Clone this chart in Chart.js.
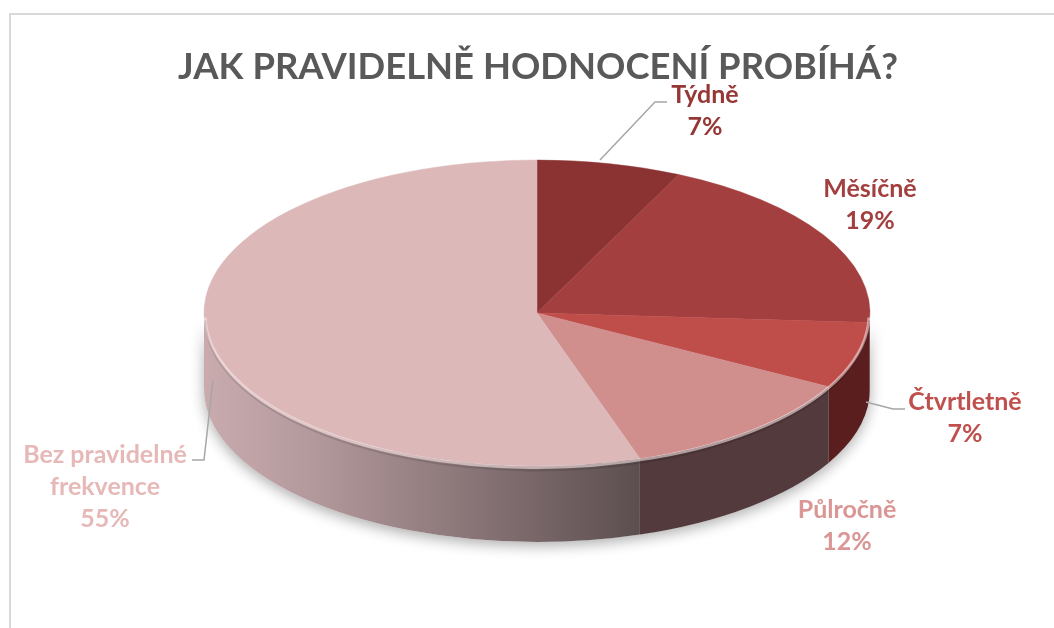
<!DOCTYPE html>
<html>
<head>
<meta charset="utf-8">
<script src="https://cdn.jsdelivr.net/npm/chart.js@4.4.0/dist/chart.umd.min.js"></script>
<style>
  html, body { margin: 0; padding: 0; background: #fff; }
  #wrap { width: 1054px; height: 628px; }
</style>
</head>
<body>
<div id="wrap"><canvas id="pieChart" width="1054" height="628"></canvas></div>
<script>
const title = 'JAK PRAVIDELNĚ HODNOCENÍ PROBÍHÁ?';
const categories = ['Týdně', 'Měsíčně', 'Čtvrtletně', 'Půlročně', 'Bez pravidelné frekvence'];
const shares = [7, 19, 7, 12, 55];

const topColors = ['#8b3333', '#a3403f', '#bf4d4a', '#d08e8d', '#dcb8b9'];
const sideColors = ['#5e2222', '#6e2a2a', '#5a1e1e', '#533a3c', null];
const labelColors = ['#953735', '#a33f3e', '#c0504d', '#d99694', '#e6b9b8'];

// where Excel put the labels (center x, first baseline) and its leader lines
const labelSpots = [[705, 103], [870, 197], [965, 410], [847, 518], [105, 463]];
const leaders = [
  [[600, 160], [655, 102], [667, 102]],
  null,
  [[866, 402], [893, 409], [905, 409]],
  null,
  [[213, 380], [204, 460], [192, 460]]
];

// the ellipse the flat pie is squashed onto
const CX = 537, CY = 313, RX = 333, RY = 153, DEPTH = 76;

function sidePath(ctx, a, b) {
  ctx.beginPath();
  ctx.ellipse(CX, CY, RX, RY, 0, a, b);
  ctx.ellipse(CX, CY + DEPTH, RX, RY, 0, b, a, true);
  ctx.closePath();
}

function labelLines(text) {
  if (text.length <= 12) return [text];
  const cut = text.lastIndexOf(' ');
  return [text.slice(0, cut), text.slice(cut + 1)];
}

const pie3d = {
  id: 'pie3d',
  beforeDraw(chart) {
    const ctx = chart.ctx;
    ctx.save();
    // chart frame
    ctx.strokeStyle = '#d9d9d9';
    ctx.lineWidth = 2;
    ctx.beginPath();
    ctx.moveTo(10, 628);
    ctx.lineTo(10, 14);
    ctx.lineTo(1054, 14);
    ctx.stroke();
    // title
    ctx.fillStyle = '#595959';
    ctx.font = '700 36.4px Lato';
    ctx.textAlign = 'center';
    ctx.textBaseline = 'alphabetic';
    ctx.fillText(title, 538, 79);
    ctx.restore();
  },
  beforeDatasetsDraw(chart) {
    const ctx = chart.ctx;
    const arcs = chart.getDatasetMeta(0).data;

    // soft shadow under the disc
    ctx.save();
    ctx.shadowColor = 'rgba(0,0,0,0.32)';
    ctx.shadowBlur = 14;
    ctx.shadowOffsetY = 4;
    ctx.fillStyle = '#ffffff';
    sidePath(ctx, 0, Math.PI);
    ctx.fill();
    ctx.restore();

    // side walls of the front half
    arcs.forEach((arc, i) => {
      const a = Math.max(arc.startAngle, 0);
      const b = Math.min(arc.endAngle, Math.PI);
      if (b <= a) return;
      ctx.save();
      if (sideColors[i]) {
        ctx.fillStyle = sideColors[i];
      } else {
        const x1 = CX + RX * Math.cos(a);
        const g = ctx.createLinearGradient(CX - RX, 0, x1, 0);
        g.addColorStop(0, '#c9abae');
        g.addColorStop(0.25, '#b3999c');
        g.addColorStop(1, '#5c4e4f');
        ctx.fillStyle = g;
      }
      sidePath(ctx, a, b);
      ctx.fill();
      ctx.restore();
    });

    // squash the flat pie onto the top ellipse
    const arc0 = arcs[0];
    const r = arc0.outerRadius;
    ctx.save();
    ctx.translate(CX, CY);
    ctx.scale(RX / r, RY / r);
    ctx.translate(-arc0.x, -arc0.y);
  },
  afterDatasetsDraw(chart) {
    const ctx = chart.ctx;
    ctx.restore();

    // bevel highlight on the front rim
    ctx.save();
    ctx.strokeStyle = 'rgba(255,236,236,0.55)';
    ctx.lineWidth = 3;
    ctx.beginPath();
    ctx.ellipse(CX, CY + 1.5, RX - 1, RY, 0, 0.02, Math.PI - 0.02);
    ctx.stroke();
    ctx.strokeStyle = 'rgba(0,0,0,0.12)';
    ctx.lineWidth = 2;
    ctx.beginPath();
    ctx.ellipse(CX, CY + 4.5, RX - 1, RY, 0, 0.02, Math.PI - 0.02);
    ctx.stroke();
    ctx.restore();

    // leader lines
    ctx.save();
    ctx.strokeStyle = '#a6a6a6';
    ctx.lineWidth = 1.5;
    leaders.forEach(pts => {
      if (!pts) return;
      ctx.beginPath();
      ctx.moveTo(pts[0][0], pts[0][1]);
      pts.slice(1).forEach(p => ctx.lineTo(p[0], p[1]));
      ctx.stroke();
    });
    ctx.restore();

    // data labels
    const data = chart.data.datasets[0].data;
    const total = data.reduce((s, v) => s + v, 0);
    ctx.save();
    ctx.font = '700 25px Lato';
    ctx.textAlign = 'center';
    ctx.textBaseline = 'alphabetic';
    chart.data.labels.forEach((lab, i) => {
      const lines = labelLines(lab).concat(Math.round(data[i] / total * 100) + '%');
      const [x, y] = labelSpots[i];
      ctx.fillStyle = labelColors[i];
      lines.forEach((ln, k) => ctx.fillText(ln, x, y + k * 32));
    });
    ctx.restore();
  }
};

new Chart(document.getElementById('pieChart'), {
  type: 'pie',
  data: {
    labels: categories,
    datasets: [{
      data: shares,
      backgroundColor: topColors,
      borderColor: topColors,
      borderWidth: 0.6,
      clip: false
    }]
  },
  options: {
    responsive: false,
    animation: false,
    events: [],
    layout: { padding: 0 },
    plugins: {
      legend: { display: false },
      tooltip: { enabled: false },
      title: { display: false }
    }
  },
  plugins: [pie3d]
});
</script>
</body>
</html>
